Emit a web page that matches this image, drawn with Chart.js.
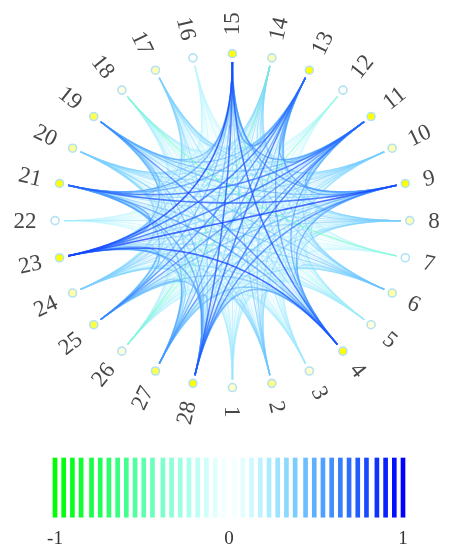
<!DOCTYPE html>
<html>
<head>
<meta charset="utf-8">
<script src="https://cdn.jsdelivr.net/npm/chart.js@4/dist/chart.umd.min.js"></script>
<style>
  html, body { margin: 0; padding: 0; background: #ffffff; overflow: hidden; }
  #wrap { position: relative; width: 457px; height: 550px; overflow: hidden; }
  #net { position: absolute; left: 0; top: 0; }
  #bar { position: absolute; left: 0; top: 450px; }
</style>
</head>
<body>
<div id="wrap">
  <canvas id="net" width="457" height="450"></canvas>
  <canvas id="bar" width="457" height="112"></canvas>
</div>
<script>
// ---------------- data ----------------
const nodeLabels = ['1','2','3','4','5','6','7','8','9','10','11','12','13','14',
                    '15','16','17','18','19','20','21','22','23','24','25','26','27','28'];

// node fill intensity (0 = white, 1 = full yellow)
const nodeStrength = [0.2,0.5,0.2,1,0.15,0.35,0,0.3,1,0.3,1,0.02,1,0.3,
                      1,0,0.3,0.1,0.7,0.4,1,0,1,0.35,0.75,0.12,0.7,1];

// upper triangle of the correlation matrix: row i holds r(i, j) for j = i+1 .. 28
const corrRow1  = [.18,.12,.26,.14,.16,.06,.19,.24,.16,.27,.08,.22,.18,.29,.1,.16,.13,.21,.18,.24,.08,.27,.16,.19,.11,.21,.26];
const corrRow2  = [.16,.34,.18,.22,.1,.24,.37,.22,.35,.08,.42,.24,.44,.11,.24,.16,.32,.24,.38,.1,.37,.22,.29,.16,.3,.35];
const corrRow3  = [.24,.13,.18,.08,.16,.22,.16,.24,.06,.26,.19,.27,.1,.18,.14,.22,.16,.24,.08,.26,.18,.19,.13,.21,.24];
const corrRow4  = [.24,.35,.16,.37,.56,.35,.55,.14,.58,.37,.75,.18,.35,.24,.66,.38,.58,.16,.78,.37,.46,.22,.48,.55];
const corrRow5  = [.18,.08,.18,.24,.16,.26,.08,.24,.18,.27,.08,.16,-.3,.21,.16,.26,.06,.29,.18,.19,.11,.21,.24];
const corrRow6  = [.1,.22,.35,.24,.37,.1,.35,.22,.4,.11,.24,.18,.42,.27,.44,.1,.38,.24,.29,.16,.3,.37];
const corrRow7  = [.1,.16,.08,.14,.05,.18,.1,.19,.06,.11,-.45,.13,.1,.18,.06,.19,.1,.13,.08,.11,.16];
const corrRow8  = [.37,.22,.35,.1,.37,.22,.38,.11,.24,.16,.3,.24,.37,.3,.4,.24,.29,.18,.32,.37];
const corrRow9  = [.35,.55,.16,.56,.37,.58,.16,.35,.24,.5,.38,.74,.16,.8,.37,.5,.22,.48,.66];
const corrRow10 = [.37,.1,.35,.24,.38,.1,.22,.16,.3,.24,.38,.11,.4,.26,.3,.16,.29,.35];
const corrRow11 = [.16,.56,.35,.58,.16,.37,.24,.5,.37,.7,.18,.72,.38,.62,.22,.58,.7];
const corrRow12 = [.16,.1,.18,.06,.1,.08,.13,.1,.16,.05,.18,.1,.11,-.4,.13,.16];
const corrRow13 = [.35,.6,.18,.35,.24,.48,.37,.56,.16,.72,.37,.64,.24,.58,.72];
const corrRow14 = [.37,.1,.22,.16,.29,.24,.35,.1,.37,.22,.29,-.42,.29,.37];
const corrRow15 = [.18,.37,.24,.5,.38,.58,.18,.8,.38,.5,.22,.5,.75];
const corrRow16 = [.1,.08,.13,.1,.18,.06,.18,.11,.13,.08,.14,.18];
const corrRow17 = [.16,.29,.22,.35,.1,.37,.24,.3,.16,.29,.37];
const corrRow18 = [.21,.16,.24,.08,.24,.16,.19,.13,.21,.24];
const corrRow19 = [.29,.48,.13,.5,.3,.4,.19,.4,.48];
const corrRow20 = [.37,.1,.38,.24,.3,.16,.29,.37];
const corrRow21 = [.16,.58,.37,.5,.24,.48,.56];
const corrRow22 = [.18,.1,.13,.06,.13,.16];
const corrRow23 = [.38,.52,.24,.52,.58];
const corrRow24 = [.3,.16,.3,.37];
const corrRow25 = [.19,.4,.5];
const corrRow26 = [.21,.24];
const corrRow27 = [.5];

const corrRows = [corrRow1,corrRow2,corrRow3,corrRow4,corrRow5,corrRow6,corrRow7,corrRow8,corrRow9,
  corrRow10,corrRow11,corrRow12,corrRow13,corrRow14,corrRow15,corrRow16,corrRow17,corrRow18,corrRow19,
  corrRow20,corrRow21,corrRow22,corrRow23,corrRow24,corrRow25,corrRow26,corrRow27];

// colour bar steps and tick labels
const colorbarValues = [-1,-0.95,-0.9,-0.85,-0.79,-0.74,-0.69,-0.64,-0.59,-0.54,-0.49,-0.44,-0.38,-0.33,
  -0.28,-0.23,-0.18,-0.13,-0.08,-0.03,0.03,0.08,0.13,0.18,0.23,0.28,0.33,0.38,0.44,0.49,0.54,0.59,0.64,
  0.69,0.74,0.79,0.85,0.9,0.95,1];
const colorbarTicks = ['-1','0','1'];

// ---------------- styling / layout ----------------
function cmap(v, alpha) {
  const t = Math.min(1, Math.abs(v));
  const w = Math.pow(1 - t, 1.5);
  let base;
  if (v >= 0) base = [0, 255 * (1 - t), 255];
  else base = [0, 255, 255 * (1 - t)];
  const c = base.map(b => Math.round(b * (1 - w) + 255 * w));
  return alpha === undefined ? `rgb(${c[0]},${c[1]},${c[2]})` : `rgba(${c[0]},${c[1]},${c[2]},${alpha})`;
}

const CX = 232.5, CY = 220.5, RX = 181.8, RY = 171.2;
const N = nodeLabels.length;
function angleOf(k) { return (-90 + k * 360 / N) * Math.PI / 180; }
function posOf(k, f) {
  const a = angleOf(k);
  return { x: CX + f * RX * Math.cos(a), y: CY - f * RY * Math.sin(a) };
}

// nodes
const nodePoints = nodeLabels.map((_, k) => posOf(k, 1));
const nodeFill = nodeStrength.map(s => `rgb(255,255,${Math.round(255 * (1 - s))})`);

// edges (quadratic curves bundled through the centre)
const edges = [];
corrRows.forEach((row, i) => {
  row.forEach((v, jj) => {
    const j = i + 1 + jj;
    if (Math.abs(v) < 0.05) return;
    edges.push({ i, j, v });
  });
});
edges.sort((a, b) => Math.abs(b.v) - Math.abs(a.v)); // strongest first

function curvePoints(i, j) {
  const p0 = posOf(i, 0.95), p2 = posOf(j, 0.95);
  const pts = [];
  const S = 30;
  for (let s = 0; s <= S; s++) {
    const t = s / S;
    const x = (1 - t) * (1 - t) * p0.x + 2 * (1 - t) * t * CX + t * t * p2.x;
    const y = (1 - t) * (1 - t) * p0.y + 2 * (1 - t) * t * CY + t * t * p2.y;
    pts.push({ x, y });
  }
  return pts;
}

const datasets = [];
datasets.push({
  type: 'scatter',
  data: nodePoints,
  pointRadius: 4,
  pointBorderWidth: 1.6,
  pointBackgroundColor: nodeFill,
  pointBorderColor: '#b4e2f2',
  order: 0
});
edges.forEach((e, r) => {
  const m = Math.abs(e.v);
  datasets.push({
    type: 'line',
    data: curvePoints(e.i, e.j),
    borderColor: cmap(e.v, 0.35 + 0.55 * m),
    borderWidth: 1.0 + 0.8 * m,
    pointRadius: 0,
    tension: 0,
    fill: false,
    order: 1 + r
  });
});

const labelPlugin = {
  id: 'nodeLabels',
  afterDatasetsDraw(chart) {
    const ctx = chart.ctx;
    const xs = chart.scales.x, ys = chart.scales.y;
    ctx.save();
    ctx.font = '23px "Liberation Serif", "DejaVu Serif", serif';
    ctx.fillStyle = '#474747';
    ctx.textBaseline = 'middle';
    nodeLabels.forEach((lab, k) => {
      const a = angleOf(k);
      const p = nodePoints[k];
      const px = xs.getPixelForValue(p.x), py = ys.getPixelForValue(p.y);
      const lx = px + 18.5 * Math.cos(a), ly = py - 18.5 * Math.sin(a);
      const right = Math.cos(a) > -1e-6;
      ctx.save();
      ctx.translate(lx, ly);
      ctx.rotate(right ? -a : Math.PI - a);
      ctx.textAlign = right ? 'left' : 'right';
      ctx.fillText(lab, 0, 1);
      ctx.restore();
    });
    ctx.restore();
  }
};

new Chart(document.getElementById('net'), {
  type: 'scatter',
  data: { datasets },
  options: {
    responsive: false,
    animation: false,
    events: [],
    layout: { padding: 0 },
    plugins: { legend: { display: false }, tooltip: { enabled: false } },
    scales: {
      x: { type: 'linear', min: 0, max: 457, display: false },
      y: { type: 'linear', min: 0, max: 450, reverse: true, display: false }
    }
  },
  plugins: [labelPlugin]
});

// colour bar
new Chart(document.getElementById('bar'), {
  type: 'bar',
  data: {
    datasets: [{
      data: colorbarValues.map(v => ({ x: v, y: 1 })),
      backgroundColor: colorbarValues.map(v => cmap(v)),
      barThickness: 4,
      clip: false
    }]
  },
  options: {
    responsive: false,
    animation: false,
    events: [],
    layout: { padding: { left: 55, right: 54, top: 8, bottom: 2 } },
    plugins: { legend: { display: false }, tooltip: { enabled: false } },
    scales: {
      x: {
        type: 'linear', min: -1, max: 1, offset: false,
        grid: { display: false, drawTicks: false },
        border: { display: false },
        afterBuildTicks: (scale) => { scale.ticks = colorbarTicks.map(t => ({ value: Number(t) })); },
        ticks: {
          padding: 10,
          maxRotation: 0,
          autoSkip: false,
          color: '#333333',
          font: { family: '"Liberation Serif", "DejaVu Serif", serif', size: 19 },
          callback: (v) => colorbarTicks.find(t => Number(t) === v)
        }
      },
      y: { type: 'linear', min: 0, max: 1, display: false }
    }
  }
});
</script>
</body>
</html>
